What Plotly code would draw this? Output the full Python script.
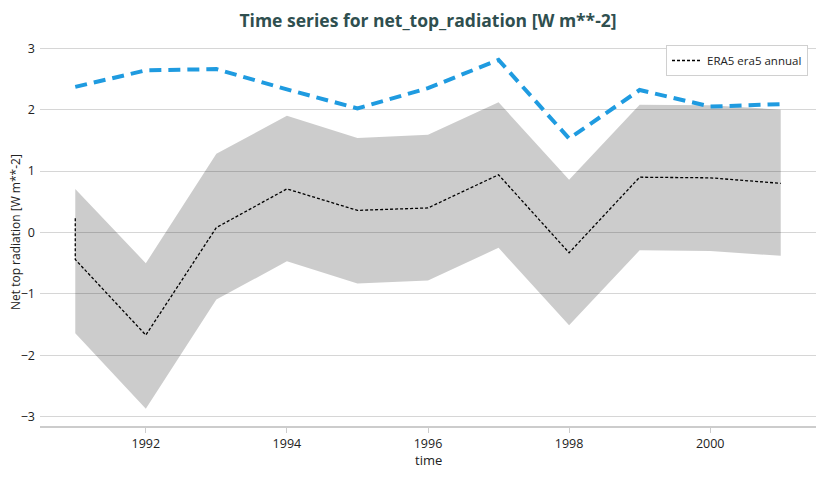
import plotly.graph_objects as go

# ERA5 series (first year appears twice in the source data)
era5_time = [1991, 1991, 1992, 1993, 1994, 1995, 1996, 1997, 1998, 1999, 2000, 2001]
era5_mean = [0.23, -0.44, -1.67, 0.08, 0.71, 0.36, 0.40, 0.94, -0.33, 0.90, 0.89, 0.80]
band_upper = [1.41, 0.71, -0.50, 1.28, 1.90, 1.54, 1.59, 2.12, 0.86, 2.08, 2.07, 2.00]
band_lower = [-1.64, -1.64, -2.87, -1.09, -0.47, -0.83, -0.78, -0.25, -1.51, -0.29, -0.30, -0.38]

blue_time = [1991, 1992, 1993, 1994, 1995, 1996, 1997, 1998, 1999, 2000, 2001]
blue_vals = [2.37, 2.64, 2.66, 2.33, 2.02, 2.35, 2.81, 1.53, 2.32, 2.05, 2.09]

x_ticks = [1992, 1994, 1996, 1998, 2000]
y_ticks = [-3, -2, -1, 0, 1, 2, 3]

FONT = "Open Sans"
TXT = "#222222"

fig = go.Figure()
fig.add_trace(go.Scatter(x=era5_time, y=band_upper, mode="lines",
                         line=dict(width=0, color="rgba(0,0,0,0)"),
                         showlegend=False, hoverinfo="skip"))
fig.add_trace(go.Scatter(x=era5_time, y=band_lower, mode="lines",
                         line=dict(width=0, color="rgba(0,0,0,0)"),
                         fill="tonexty", fillcolor="rgba(0,0,0,0.2)",
                         showlegend=False, hoverinfo="skip"))
fig.add_trace(go.Scatter(x=era5_time, y=era5_mean, mode="lines",
                         line=dict(color="black", width=1.3, dash="3px,2px"),
                         name="ERA5 era5 annual"))
fig.add_trace(go.Scatter(x=blue_time, y=blue_vals, mode="lines",
                         line=dict(color="#1f9be0", width=4, dash="12px,7px"),
                         showlegend=False))

fig.update_layout(
    width=817, height=470,
    margin=dict(l=32, r=9, t=31, b=52),
    paper_bgcolor="white", plot_bgcolor="white",
    font=dict(family=FONT, size=12.5, color=TXT),
    title=dict(text="<b>Time series for net_top_radiation [W m**-2]</b>",
               x=0.5, xref="paper", xanchor="center",
               y=1 - 13 / 470, yanchor="middle",
               font=dict(family=FONT, size=17.5, color="#2f4f4f")),
    showlegend=True,
    legend=dict(x=0.9897, y=0.9845, xanchor="right", yanchor="top",
                bgcolor="white", bordercolor="#d0d0d0", borderwidth=1,
                font=dict(family=FONT, size=11.5, color=TXT),
                itemwidth=30),
    annotations=[
        dict(text="Net top radiation [W m**-2]", textangle=-90,
             xref="paper", yref="paper", x=-24.5 / 776, y=0.5,
             xanchor="center", yanchor="middle", showarrow=False,
             font=dict(family=FONT, size=12, color=TXT)),
        dict(text="time", xref="paper", yref="paper", x=0.5, y=-34 / 387,
             xanchor="center", yanchor="middle", showarrow=False,
             font=dict(family=FONT, size=13, color=TXT)),
    ],
)
fig.update_xaxes(range=[1990.5, 2001.5], tickvals=x_ticks,
                 ticktext=[str(t) for t in x_ticks],
                 showgrid=False, zeroline=False, automargin=False,
                 showline=True, linecolor="#cccccc", linewidth=1.5,
                 ticks="outside", ticklen=5, tickcolor="#cccccc")
fig.update_yaxes(range=[-3.15, 3.15], tickvals=y_ticks,
                 ticktext=["\u22123", "\u22122", "\u22121", "0", "1", "2", "3"],
                 showgrid=True, gridcolor="#d6d6d6", gridwidth=1,
                 zeroline=False, showline=False, automargin=False,
                 ticks="", ticklabelstandoff=4)

fig.write_html("out.html")
